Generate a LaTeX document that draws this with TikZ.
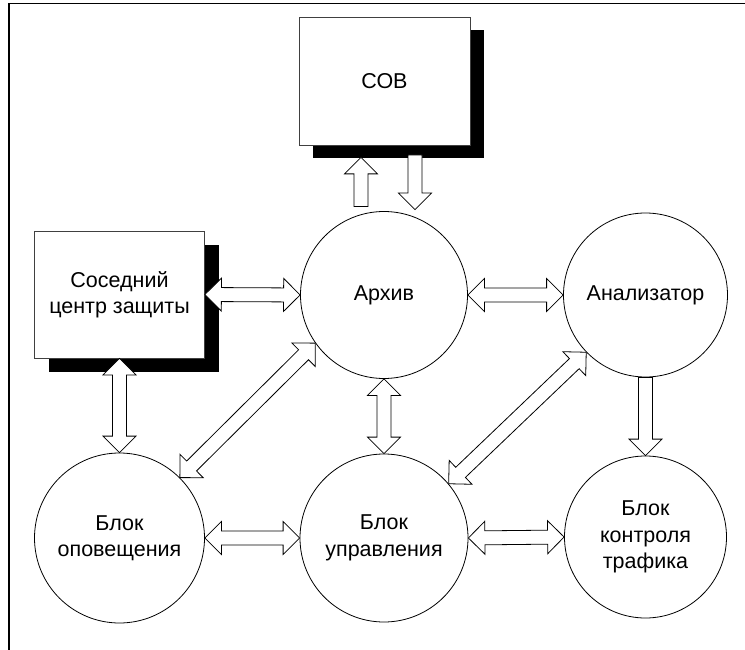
\documentclass[tikz,border=0pt]{standalone}
\usepackage{fontspec}
\setmainfont{Liberation Sans}
\usetikzlibrary{calc,shadows}
\tikzset{
  blk/.style={draw=black, line width=0.8pt, fill=white, line join=miter},
  boxnode/.style={draw=black!75, line width=0.8pt, fill=white, inner sep=2pt,
    general shadow={fill=black, shadow xshift=14pt, shadow yshift=-13.5pt},
    align=center, font=\fontsize{21.5}{26}\selectfont},
  circnode/.style={draw=black, line width=0.8pt, circle, inner sep=0pt,
    align=center, font=\fontsize{21.5}{26.5}\selectfont},
  frameline/.style={line width=1.6pt, black}
}
\newcommand\blkdbl[2]{%
  \path let \p1=($(#2)-(#1)$), \n1={atan2(\y1,\x1)}, \n2={veclen(\x1,\y1)} in
    \pgfextra{\xdef\blkang{\n1}\xdef\blklen{\n2}};
  \begin{scope}[shift={(#1)}, rotate=\blkang]
    \draw[blk] (0,0) -- (16.5,16.5) -- (16.5,7) -- (\blklen-16.5,7) -- (\blklen-16.5,16.5)
      -- (\blklen,0) -- (\blklen-16.5,-16.5) -- (\blklen-16.5,-7) -- (16.5,-7) -- (16.5,-16.5) -- cycle;
  \end{scope}}
\newcommand\blksgl[2]{%
  \path let \p1=($(#2)-(#1)$), \n1={atan2(\y1,\x1)}, \n2={veclen(\x1,\y1)} in
    \pgfextra{\xdef\blkang{\n1}\xdef\blklen{\n2}};
  \begin{scope}[shift={(#1)}, rotate=\blkang]
    \draw[blk] (0,7) -- (\blklen-16.5,7) -- (\blklen-16.5,16.5)
      -- (\blklen,0) -- (\blklen-16.5,-16.5) -- (\blklen-16.5,-7) -- (0,-7) -- cycle;
  \end{scope}}
\begin{document}
\begin{tikzpicture}[x=1pt, y=-1pt]
\useasboundingbox (0,0) rectangle (745,650);
% frame
\draw[frameline] (9,3.5) -- (745,3.5);
\draw[frameline] (9,3.5) -- (9,650);
% boxes
\node[boxnode, minimum width=171, minimum height=128] (sov) at (384.5,81) {СОВ};
\node[boxnode, minimum width=170, minimum height=127] (sos) at (119.5,294.5) {Соседний\\центр защиты};
% circles
\node[circnode, minimum size=167] (arch) at (384,295) {Архив};
\node[circnode, minimum size=164] (anal) at (645.5,295) {Анализатор};
\node[circnode, minimum size=170] (opov) at (119.5,538) {Блок\\оповещения};
\node[circnode, minimum size=168] (upr) at (384,538) {Блок\\управления};
\node[circnode, minimum size=162] (kont) at (645.5,537) {Блок\\контроля\\трафика};
% free ends
\coordinate (u1) at ($(arch.north)+(-23,-4.5)$);
\coordinate (u2) at ($(sov.south)+(-23.5,12)$);
\coordinate (d1) at ($(sov.south)+(30.5,9.5)$);
\coordinate (d2) at ($(arch.north)+(31,-1.5)$);
% connectors
\blksgl{u1}{u2}
\blksgl{d1}{d2}
\blkdbl{sos.east}{arch.west}
\blkdbl{arch.east}{anal.west}
\blkdbl{sos.south}{opov.north}
\blkdbl{arch.south}{upr.north}
\blkdbl{opov.45}{arch.215}
\blkdbl{upr.40}{anal.224}
\blkdbl{opov.east}{upr.west}
\blkdbl{upr.east}{kont.west}
\blksgl{anal.south}{kont.north}
\end{tikzpicture}
\end{document}
